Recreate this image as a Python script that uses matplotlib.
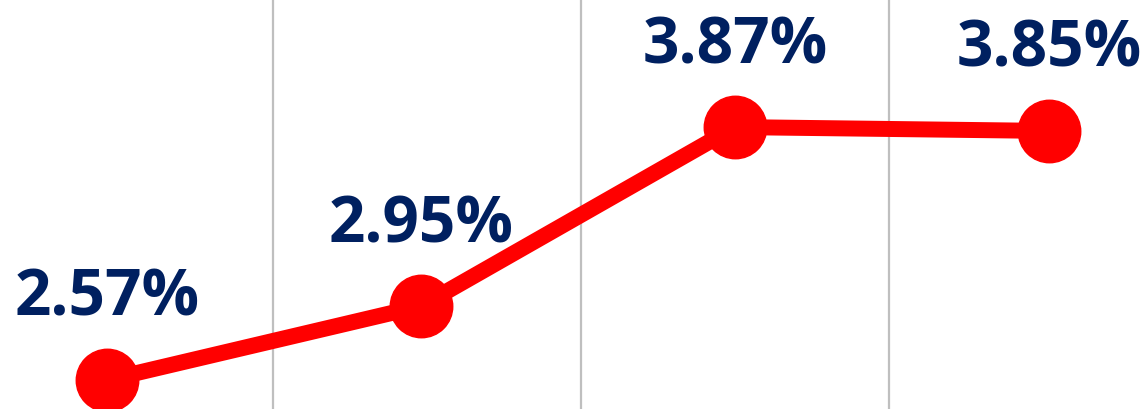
import matplotlib

matplotlib.use("Agg")
import matplotlib.pyplot as plt

# values (percent)
categories = ["P1", "P2", "P3", "P4"]
rates = [2.57, 2.95, 3.87, 3.85]
labels = [f"{v:.2f}%" for v in rates]

_RED = "#ff0000"
_NAVY = "#002060"
_GRID = "#bfbfbf"

fig = plt.figure(figsize=(11.48, 4.09), dpi=100)
ax = fig.add_axes([0, 0, 1, 1])

xs = list(range(len(categories)))
ax.plot(xs, rates, color=_RED, linewidth=11.5, marker="o", markersize=45,
        solid_capstyle="butt", zorder=3)
for x, v, lab in zip(xs, rates, labels):
    ax.annotate(lab, (x, v), xytext=(0, 58), textcoords="offset points",
                ha="center", va="center", fontsize=46, fontweight="bold",
                family=["Open Sans", "DejaVu Sans"], color=_NAVY, zorder=4)

# category boundaries as vertical gridlines
for gx in (0.53, 1.51, 2.49):
    ax.axvline(gx, color=_GRID, linewidth=1.6, zorder=1)

ax.set_xlim(-0.341, 3.315)
ax.set_ylim(2.421, 4.523)
ax.axis("off")

fig.savefig("out.png", dpi=100)
